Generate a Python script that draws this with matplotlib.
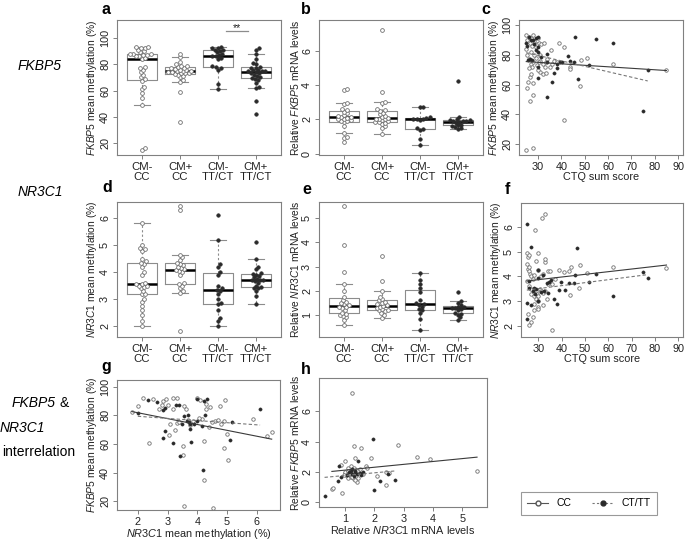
import numpy as np
import matplotlib
matplotlib.use('Agg')
import matplotlib.pyplot as plt
from matplotlib.lines import Line2D

plt.rcParams['font.family'] = ['Liberation Sans', 'DejaVu Sans']
plt.rcParams['mathtext.fontset'] = 'custom'
plt.rcParams['mathtext.it'] = 'Liberation Sans:italic'
plt.rcParams['mathtext.rm'] = 'Liberation Sans'

# ---------------- data ----------------
groups = ['CM-\nCC', 'CM+\nCC', 'CM-\nTT/CT', 'CM+\nTT/CT']
group_filled = [False, False, True, True]

fkbp5_meth = [
    [15, 16.5, 49, 54, 58, 61, 63, 67.5, 68.5, 70, 72, 74, 76, 77, 78, 84.3, 85, 86, 86.5, 87, 87,
     87.5, 88, 88, 89, 90, 91, 92, 92.5, 93, 93],
    [36, 59, 66.5, 68, 70, 71, 72, 72.5, 73, 73, 73.5, 74, 74, 74.5, 75, 75, 75.5, 76, 76.5, 77,
     77.5, 78, 78.5, 79, 80, 82, 85.3, 88],
    [61, 65, 76, 77, 78, 78.5, 84, 85, 86, 86, 87, 88, 89, 90, 91, 91, 92, 92, 93],
    [42, 52, 62, 63, 66, 68, 69, 69.5, 70, 71, 72, 73, 73.5, 74, 74.5, 75, 75, 75.5, 76, 77, 77.5,
     78, 80, 81, 84, 88, 91, 92],
]
fkbp5_mrna = [
    [0.65, 0.92, 0.95, 1.2, 1.6, 1.85, 1.88, 1.9, 1.95, 2.0, 2.05, 2.1, 2.12, 2.15, 2.2, 2.25, 2.35,
     2.45, 2.55, 2.6, 2.9, 2.95, 3.7, 3.8],
    [1.15, 1.5, 1.6, 1.75, 1.8, 1.82, 1.85, 1.9, 1.95, 2.0, 2.05, 2.05, 2.1, 2.15, 2.2, 2.3, 2.4,
     2.5, 2.55, 2.6, 2.95, 3.0, 3.6, 7.2],
    [0.5, 0.85, 1.4, 1.45, 1.5, 1.95, 2.0, 2.02, 2.05, 2.1, 2.12, 2.7, 2.75],
    [1.43, 1.5, 1.55, 1.62, 1.65, 1.7, 1.78, 1.85, 1.88, 1.9, 1.92, 1.95, 1.97, 2.0, 2.12, 4.24],
]
nr3c1_meth = [
    [2.0, 2.2, 2.4, 2.6, 2.75, 2.9, 3.0, 3.18, 3.2, 3.3, 3.4, 3.45, 3.5, 3.5, 3.55, 3.55, 3.6, 3.9,
     4.0, 4.2, 4.3, 4.35, 4.4, 4.5, 4.8, 4.85, 4.9, 5.0, 5.82],
    [1.8, 3.24, 3.3, 3.4, 3.5, 3.55, 3.6, 3.9, 4.0, 4.05, 4.08, 4.1, 4.15, 4.2, 4.25, 4.3, 4.35,
     4.45, 4.55, 4.64, 6.3, 6.45],
    [2.0, 2.2, 2.3, 2.6, 2.8, 2.85, 3.0, 3.2, 3.3, 3.35, 3.4, 3.5, 3.9, 4.0, 4.2, 4.3, 5.2, 6.1],
    [2.8, 3.1, 3.3, 3.4, 3.4, 3.45, 3.5, 3.6, 3.65, 3.7, 3.7, 3.72, 3.75, 3.8, 3.85, 3.9, 3.92,
     3.95, 4.1, 4.2, 4.47, 5.1],
]
nr3c1_mrna = [
    [0.59, 0.8, 0.9, 0.95, 1.0, 1.05, 1.1, 1.2, 1.3, 1.33, 1.35, 1.4, 1.45, 1.5, 1.55, 1.6, 1.75,
     2.0, 2.3, 2.78, 3.9, 5.5],
    [0.88, 1.0, 1.1, 1.15, 1.2, 1.22, 1.25, 1.3, 1.35, 1.38, 1.4, 1.45, 1.5, 1.55, 1.6, 1.65, 1.75,
     2.0, 2.4, 3.45],
    [0.38, 0.85, 1.1, 1.2, 1.25, 1.35, 1.42, 1.45, 1.5, 1.6, 1.95, 2.1, 2.3, 2.45, 2.72],
    [0.79, 0.9, 1.0, 1.05, 1.1, 1.2, 1.25, 1.28, 1.3, 1.32, 1.35, 1.4, 1.5, 1.58, 1.95],
]

# panel c: CTQ vs FKBP5 methylation
c_cc_x = [25, 28, 26.4, 28, 25.4, 25.7, 28, 26.7, 27.1, 30.7, 32, 33.6, 35, 35.7, 37, 39, 41, 41,
          43.9, 43.9, 48.3, 47.9, 51, 62, 85, 25, 25.5, 26, 26.5, 27, 27.5, 28, 28.5, 29, 29.5, 30,
          30.5, 31.5, 32.5, 25, 25.5, 26, 27, 27.5, 28, 29, 29.5, 30, 31, 32, 33, 33.5, 34, 30.5,
          26, 36, 38, 28.5, 27, 31]
c_cc_y = [16, 17.7, 49.3, 53, 58, 62, 61, 65, 67, 68.5, 67, 68, 72, 83, 76, 88, 85.4, 36, 72, 70.7,
          76.3, 58.8, 78, 73.6, 70, 93, 90, 92, 88, 91, 86, 93, 89, 85, 87, 91, 88, 87.5, 88, 84, 80,
          77, 74, 72, 75, 78, 73, 70, 76, 74, 72, 75, 77, 75, 71, 74, 75, 80, 82, 80]
c_tt_x = [25.3, 25, 26, 27, 28, 28.5, 29, 30, 30, 29.3, 27.6, 25.9, 26.5, 30, 30, 30, 31.4, 34, 34,
          34, 36, 37, 38, 38, 39.6, 40.4, 43, 43.6, 45.3, 46, 47, 52, 55, 62, 75, 77]
c_tt_y = [85.8, 88, 92, 90, 90, 87, 91, 92, 85.4, 83, 76.8, 76.3, 77, 82, 72, 64.6, 78.6, 80.8, 52,
          75, 62, 68, 71, 74, 75.2, 75, 79, 76, 75, 91.7, 64, 73, 90.5, 88, 42.5, 69.6]

# panel f: CTQ vs NR3C1 methylation
f_cc_x = [31.6, 33, 28.7, 29.7, 25, 25.5, 26, 29, 32.6, 33, 35.9, 26.1, 26.8, 27.8, 27.9, 29.7, 30,
          31.9, 38.8, 41, 43, 44, 43.6, 47.6, 48, 50.8, 62, 85, 25, 25.5, 26, 26.5, 27, 27.5, 28,
          28.5, 29, 29.5, 30, 30.5, 31, 32, 33, 34, 25, 26, 27, 28, 29, 30, 31, 32, 34, 35, 26, 27,
          28, 25.5, 33.5, 36, 37, 30, 28]
f_cc_y = [6.36, 6.5, 5.89, 4.95, 4.93, 4.8, 4.85, 4.62, 4.6, 4.7, 1.84, 2.04, 2.17, 2.38, 2.64,
          2.78, 2.7, 2.85, 4.28, 4.19, 4.23, 4.39, 3.25, 3.52, 4.48, 4.12, 4.39, 4.36, 4.5, 4.3, 4.2,
          4.1, 4.0, 3.9, 3.5, 3.45, 3.4, 3.3, 3.2, 3.5, 3.4, 3.35, 3.4, 3.7, 3.8, 3.6, 3.3, 3.2,
          3.1, 3.0, 4.0, 4.1, 4.2, 4.2, 4.4, 3.5, 2.9, 2.5, 3.1, 3.7, 3.9, 4.25, 4.05]
f_tt_x = [25, 25, 25, 26.8, 26.1, 26.8, 27.5, 28, 29, 30, 30, 31, 32, 33.6, 34.7, 35.4, 36.7, 37.9,
          38.8, 39.8, 41.2, 43.3, 45.1, 45.9, 46.6, 51.7, 54.8, 62, 74.9, 77, 26, 28.5, 30, 32.5, 34]
f_tt_y = [6.13, 2.94, 2.27, 5.2, 3.52, 2.85, 3.4, 3.55, 3.5, 4.25, 3.92, 3.38, 4.05, 3.72, 3.78,
          3.85, 3.11, 2.87, 3.45, 3.78, 3.45, 3.72, 3.72, 4.05, 5.15, 3.78, 4.08, 3.21, 4.19, 3.92,
          3.8, 3.3, 3.0, 3.4, 3.35]

# panel g: NR3C1 methylation vs FKBP5 methylation
g_cc_x = [1.8, 2.0, 2.17, 2.5, 2.39, 2.8, 2.86, 2.95, 3.06, 3.18, 3.33, 3.18, 3.09, 3.25, 3.33,
          3.51, 3.51, 3.54, 3.55, 3.62, 3.76, 3.87, 3.98, 4.1, 4.15, 4.23, 4.3, 4.3, 4.21, 4.38,
          4.43, 4.54, 4.6, 4.75, 4.8, 4.9, 4.94, 4.99, 5.02, 4.9, 5.87, 6.34, 6.5, 4.7, 4.5, 4.05,
          3.7, 3.4, 2.7, 3.0]
g_cc_y = [82.6, 86.3, 91.9, 91.3, 60.8, 86.9, 90.2, 91.5, 66.2, 92.4, 92.4, 84.7, 73.8, 69.9, 74.9,
          58.6, 52, 16.5, 86.5, 84.3, 73.2, 76, 92.4, 90.6, 77.1, 34.6, 88, 84.7, 61.9, 71.7, 85.8,
          15.5, 76, 86.3, 74, 76, 90.6, 67.3, 48.8, 57, 77.5, 65.8, 68.4, 76.5, 75, 78, 77, 75,
          84.5, 87]
g_tt_x = [2.0, 2.34, 2.66, 2.84, 2.84, 2.9, 3.18, 3.42, 3.37, 3.28, 2.93, 3.74, 3.67, 3.7, 3.72,
          3.75, 3.79, 3.89, 3.98, 4.0, 4.15, 4.18, 4.24, 4.26, 4.32, 5.16, 5.1, 6.11, 3.54, 3.48]
g_tt_y = [81.5, 90.8, 89.5, 83.7, 64.5, 69, 60.8, 51.4, 86.9, 87.5, 85.2, 70.6, 76, 80, 75.5, 74,
          61.2, 73.8, 91.3, 76, 72.8, 41.6, 90.2, 80.4, 91.3, 75.6, 63, 84.3, 79.3, 73.8]

# panel h: NR3C1 mRNA vs FKBP5 mRNA
h_cc_x = [1.25, 1.3, 1.55, 1.35, 1.9, 2.8, 3.45, 3.9, 5.5, 0.55, 0.6, 0.9, 0.85, 1.0, 1.1, 1.7,
          1.75, 2.1, 2.4, 2.4, 1.0, 1.05, 1.1, 1.15, 1.2, 1.3, 1.4, 1.45, 1.5, 1.2, 1.3, 1.6, 1.4,
          1.0, 0.95, 1.1, 1.25, 1.35, 2.5]
h_cc_y = [7.2, 3.7, 3.6, 2.95, 2.95, 3.8, 3.0, 2.85, 2.1, 0.9, 0.95, 0.65, 2.5, 2.7, 2.3, 2.4,
          2.3, 1.75, 1.15, 2.0, 1.95, 1.75, 1.6, 1.85, 1.65, 1.55, 1.35, 1.6, 2.2, 2.4, 2.25, 1.85,
          2.1, 2.0, 1.8, 2.1, 1.7, 1.45, 1.95]
h_tt_x = [0.3, 0.8, 0.75, 0.85, 1.05, 1.15, 1.2, 1.25, 1.3, 1.35, 1.4, 1.45, 1.5, 1.55, 1.6, 1.95,
          2.0, 2.2, 2.45, 2.7, 1.35, 1.25]
h_tt_y = [0.45, 2.4, 1.4, 1.65, 1.8, 2.0, 2.1, 1.9, 1.75, 2.05, 1.85, 2.7, 1.95, 1.8, 2.0, 4.2,
          0.85, 1.4, 1.9, 1.5, 2.0, 2.2]

# regression fits (intercept, slope)
fit_c_cc, fit_c_tt = (78.0, -0.10), (90.6, -0.365)
fit_f_cc, fit_f_tt = (3.55, 0.0107), (3.15, 0.012)
fit_g_cc, fit_g_tt = (89.96, -4.09), (82.3, -1.49)
fit_h_cc, fit_h_tt = (1.94, 0.19), (1.60, 0.176)

sig_bar = {'x': (3.2, 3.8), 'y': 105, 'label': '**'}

# ---------------- style ----------------
W, H = 685, 540
FRAME = '#808080'
TXT = '#222222'
OPEN_EC = '#707070'
FILL_C = '#2a2a2a'
TICK_FS = 7.8
LAB_FS = 7.4

fig = plt.figure(figsize=(W / 100, H / 100), dpi=100)


def add_ax(l, r, t, b):
    return fig.add_axes([l / W, 1 - b / H, (r - l) / W, (b - t) / H])


def style(ax):
    for s in ax.spines.values():
        s.set_color(FRAME)
        s.set_linewidth(0.8)
    ax.tick_params(colors=FRAME, labelcolor=TXT, labelsize=TICK_FS, length=3, width=0.7, pad=2)
    ax.tick_params(axis='y', labelrotation=90)
    for lbl in ax.get_yticklabels():
        lbl.set_va('center')


def swarm(ax, pos, vals, d=3.4):
    trans = ax.transData
    vals = np.asarray(vals, float)
    ys = trans.transform(np.column_stack([np.full(len(vals), pos), vals]))[:, 1]
    pxu = trans.transform((1, 0))[0] - trans.transform((0, 0))[0]
    order = np.argsort(ys)
    placed = []
    offs = np.zeros(len(vals))
    for i in order:
        y = ys[i]
        cands = [0.0]
        near = [(px, py) for px, py in placed if abs(py - y) < d]
        for px, py in near:
            dx = np.sqrt(max(d * d - (py - y) ** 2, 0))
            cands += [px + dx, px - dx]
        cands = sorted(cands, key=abs)
        for c in cands:
            if all((c - px) ** 2 + (y - py) ** 2 >= d * d - 1e-6 for px, py in near):
                offs[i] = c
                placed.append((c, y))
                break
    return pos + offs / pxu


def boxpanel(ax, data, ylim, yticks, ylabel):
    ax.set_xlim(0.34, 4.66)
    ax.set_ylim(*ylim)
    pos = [1, 2, 3, 4]
    ax.boxplot(data, positions=pos, widths=0.8, whis=1.5, showfliers=False,
               boxprops=dict(color='#8c8c8c', lw=0.8),
               medianprops=dict(color='black', lw=1.8),
               whiskerprops=dict(color='#8c8c8c', lw=0.8, ls=(0, (2, 2))),
               capprops=dict(color='#8c8c8c', lw=0.8), capwidths=0.4)
    for p, vals, filled in zip(pos, data, group_filled):
        xs = swarm(ax, p, vals)
        if filled:
            ax.plot(xs, vals, 'o', ms=2.5, mfc=FILL_C, mec=FILL_C, mew=0.5, zorder=3)
        else:
            ax.plot(xs, vals, 'o', ms=2.7, mfc='white', mec=OPEN_EC, mew=0.6, zorder=3)
    ax.set_xticks(pos)
    ax.set_xticklabels(groups, linespacing=0.95)
    ax.set_yticks(yticks)
    ax.set_ylabel(ylabel, fontsize=LAB_FS, color=TXT, labelpad=1)
    style(ax)
    ax.tick_params(axis='x', labelsize=8.2)


def scatpanel(ax, cx, cy, tx, ty, fcc, ftt, xlim, ylim, xticks, yticks, xlabel, ylabel):
    ax.set_xlim(*xlim)
    ax.set_ylim(*ylim)
    ax.plot(cx, cy, 'o', ms=2.5, mfc='white', mec=OPEN_EC, mew=0.6, zorder=3)
    ax.plot(tx, ty, 'o', ms=2.3, mfc=FILL_C, mec=FILL_C, mew=0.4, zorder=3)
    xs = np.array([min(cx), max(cx)])
    ax.plot(xs, fcc[0] + fcc[1] * xs, '-', color='#3a3a3a', lw=0.8, zorder=4)
    xs = np.array([min(tx), max(tx)])
    ax.plot(xs, ftt[0] + ftt[1] * xs, color='#777777', lw=0.8, ls=(0, (3, 2)), zorder=4)
    ax.set_xticks(xticks)
    ax.set_yticks(yticks)
    ax.set_xlabel(xlabel, fontsize=LAB_FS + 0.4, color=TXT, labelpad=0)
    ax.set_ylabel(ylabel, fontsize=LAB_FS, color=TXT, labelpad=1)
    style(ax)


lab_fk_meth = r'$\it{FKBP5}$ mean methylation (%)'
lab_nr_meth = r'$\it{NR3C1}$ mean methylation (%)'
lab_fk_mrna = r'Relative $\it{FKBP5}$ mRNA levels'
lab_nr_mrna = r'Relative $\it{NR3C1}$ mRNA levels'

ax_a = add_ax(117, 281, 20, 155)
boxpanel(ax_a, fkbp5_meth, (10.9, 113.7), [20, 40, 60, 80, 100], lab_fk_meth)
ax_a.plot(sig_bar['x'], [sig_bar['y']] * 2, color='#8c8c8c', lw=0.9)
ax_a.text(np.mean(sig_bar['x']), sig_bar['y'] + 2.5, sig_bar['label'], ha='center',
          va='center', fontsize=7.5, color=TXT)

ax_b = add_ax(319, 483, 20, 155)
boxpanel(ax_b, fkbp5_mrna, (-0.08, 7.8), [0, 2, 4, 6], lab_fk_mrna)

ax_c = add_ax(519, 683, 20, 155)
scatpanel(ax_c, c_cc_x, c_cc_y, c_tt_x, c_tt_y, fit_c_cc, fit_c_tt, (21.9, 92.1), (12.8, 103.4),
          range(30, 91, 10), [20, 40, 60, 80, 100], 'CTQ sum score', lab_fk_meth)

ax_d = add_ax(117, 281, 202, 337)
boxpanel(ax_d, nr3c1_meth, (1.59, 6.6), [2, 3, 4, 5, 6], lab_nr_meth)

ax_e = add_ax(319, 483, 202, 337)
boxpanel(ax_e, nr3c1_mrna, (0.09, 5.67), [1, 2, 3, 4, 5], lab_nr_mrna)

ax_f = add_ax(521, 683, 203, 337)
scatpanel(ax_f, f_cc_x, f_cc_y, f_tt_x, f_tt_y, fit_f_cc, fit_f_tt, (22.5, 92.1), (1.56, 6.96),
          range(30, 91, 10), [2, 3, 4, 5, 6], 'CTQ sum score', lab_nr_meth)

ax_g = add_ax(117, 280, 380, 510)
scatpanel(ax_g, g_cc_x, g_cc_y, g_tt_x, g_tt_y, fit_g_cc, fit_g_tt, (1.30, 6.78), (14, 104.6),
          [2, 3, 4, 5, 6], [20, 40, 60, 80, 100], lab_nr_meth, lab_fk_meth)

ax_h = add_ax(319, 487, 378, 507)
scatpanel(ax_h, h_cc_x, h_cc_y, h_tt_x, h_tt_y, fit_h_cc, fit_h_tt, (0.11, 5.84), (-0.3, 8.2),
          [1, 2, 3, 4, 5], [0, 2, 4, 6], lab_nr_mrna, lab_fk_mrna)

# panel letters
for letter, (px, py) in zip('abcdefgh', [(106, 9), (306, 9), (486, 9), (107, 188), (307, 189),
                                         (507, 189), (106, 366), (306, 370)]):
    fig.text(px / W, 1 - py / H, letter, fontsize=11.5, fontweight='bold', ha='center',
             va='center', color='black')

# row labels
fig.text(40 / W, 1 - 66 / H, 'FKBP5', fontsize=10, style='italic', ha='center', va='center')
fig.text(40 / W, 1 - 192 / H, 'NR3C1', fontsize=10, style='italic', ha='center', va='center')
fig.text(12 / W, 1 - 403 / H, 'FKBP5', fontsize=10, style='italic', ha='left', va='center')
fig.text(60 / W, 1 - 403 / H, '&', fontsize=10, ha='left', va='center')
fig.text(0 / W, 1 - 428 / H, 'NR3C1', fontsize=10, style='italic', ha='left', va='center')
fig.text(2 / W, 1 - 452 / H, 'interrelation', fontsize=10, ha='left', va='center')

# legend
handles = [Line2D([], [], color='#555555', lw=0.8, marker='o', ms=3.5, mfc='white', mec='#555555'),
           Line2D([], [], color='#777777', lw=0.8, ls=(0, (2, 2)), marker='o', ms=3.5,
                  mfc=FILL_C, mec=FILL_C)]
leg = fig.legend(handles, ['CC', 'CT/TT'], loc='center', bbox_to_anchor=(589 / W, 1 - 503.5 / H),
                 ncol=2, frameon=True, fancybox=False, fontsize=7.5, handlelength=2.0,
                 columnspacing=2.0, borderpad=0.6, handletextpad=0.8)
leg.get_frame().set_edgecolor(FRAME)
leg.get_frame().set_linewidth(0.8)

fig.savefig('out.png', dpi=100)
